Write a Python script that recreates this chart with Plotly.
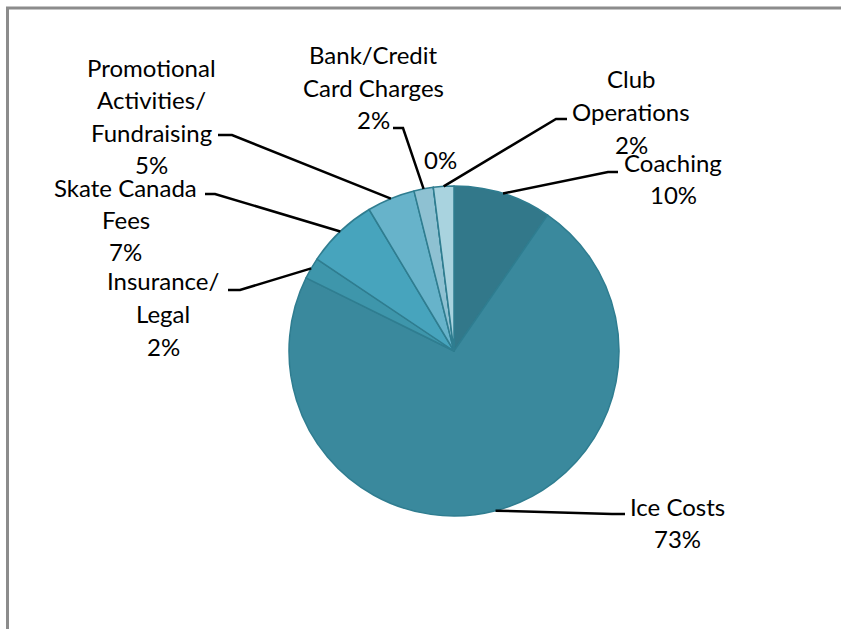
import math
import plotly.graph_objects as go

# ---- data ----
categories = ["Coaching", "Ice Costs", "Insurance/ Legal", "Skate Canada Fees",
              "Promotional Activities/ Fundraising", "Bank/Credit Card Charges",
              "", "Club Operations"]
values = [9.6, 72.7, 2.1, 7.0, 4.7, 1.9, 0.0, 2.0]
pct_labels = ["10%", "73%", "2%", "7%", "5%", "2%", "0%", "2%"]
label_lines = [
    ["Coaching", "10%"],
    ["Ice Costs", "73%"],
    ["Insurance/", "Legal", "2%"],
    ["Skate Canada", "Fees", "7%"],
    ["Promotional", "Activities/", "Fundraising", "5%"],
    ["Bank/Credit", "Card Charges", "2%"],
    ["0%"],
    ["Club", "Operations", "2%"],
]
colors = ["#32788A", "#3A899D", "#3E96AB", "#47A4BD", "#67B3CA", "#8EC1D2", "#9CCAD8", "#A9D3DF"]

# ---- layout constants (pixels) ----
W, H = 841, 629
CX, CY, R = 454, 351, 165
LINE_H = 32.5
FONT = dict(family="Lato, 'Noto Sans', sans-serif", size=24, color="#000000")

def px(x):
    return x / W

def py(y):
    return 1 - y / H

# label block placement: (center x, y of first line)
label_pos = [
    (673, 162), (677, 506), (163, 281), (126, 187),
    (151, 67), (373, 55), (440, 159), (631, 79),
]
# leader elbows: (elbow point, end point) or None
leaders = [
    ((608, 172), (618, 172)),
    ((612, 514), (625, 514)),
    ((240, 290), (228, 290)),
    ((215, 194), (205, 194)),
    ((232, 135), (218, 135)),
    ((403, 128), (393, 128)),
    None,
    ((556, 119), (567, 119)),
]

fig = go.Figure()
fig.add_trace(go.Pie(
    labels=[c if c else " " for c in categories],
    values=values,
    sort=False,
    direction="clockwise",
    rotation=0,
    textinfo="none",
    hoverinfo="label+percent",
    marker=dict(colors=colors, line=dict(color="#2F7D90", width=1.5)),
    domain=dict(x=[px(CX - R), px(CX + R)], y=[py(CY + R), py(CY - R)]),
    showlegend=False,
))

annotations = []
shapes = []
total = sum(values)
cum = 0.0
for i, v in enumerate(values):
    mid = (cum + v / 2) / total * 2 * math.pi
    cum += v
    ex = CX + R * math.sin(mid)
    ey = CY - R * math.cos(mid)
    lx, ly = label_pos[i]
    for k, line in enumerate(label_lines[i]):
        annotations.append(dict(
            x=px(lx), y=py(ly + k * LINE_H), xref="paper", yref="paper",
            text=line, showarrow=False, xanchor="center", yanchor="middle",
            font=FONT,
        ))
    if leaders[i] is not None:
        (bx, by), (tx, ty) = leaders[i]
        shapes.append(dict(type="path", xref="paper", yref="paper",
                           path=f"M {px(ex)} {py(ey)} L {px(bx)} {py(by)} L {px(tx)} {py(ty)}",
                           line=dict(color="#000000", width=2.5)))

# outer frame (extends beyond right and bottom edges)
shapes.append(dict(type="rect", xref="paper", yref="paper",
                   x0=px(7.5), y0=-0.05, x1=1.05, y1=py(8),
                   line=dict(color="#8C8C8C", width=3), fillcolor="rgba(0,0,0,0)"))

fig.update_layout(
    width=W, height=H,
    margin=dict(l=0, r=0, t=0, b=0),
    paper_bgcolor="#FFFFFF",
    plot_bgcolor="#FFFFFF",
    annotations=annotations,
    shapes=shapes,
)

fig.write_html("out.html",
               config={"displayModeBar": False},
               post_script="document.body.style.margin='0';document.body.style.overflow='hidden';")
